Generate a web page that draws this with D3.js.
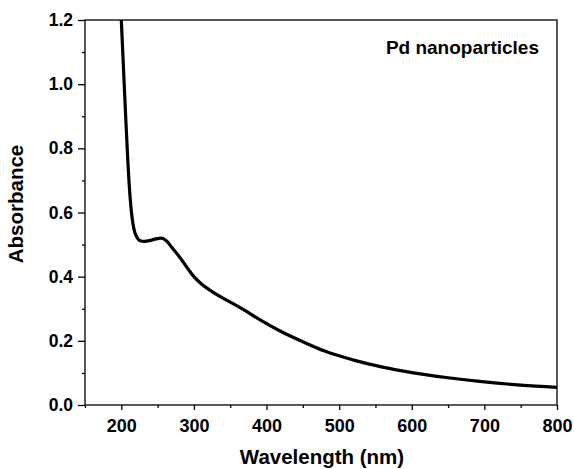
<!DOCTYPE html>
<html>
<head>
<meta charset="utf-8">
<script src="https://cdn.jsdelivr.net/npm/d3@7"></script>
<style>
  body { margin: 0; background: #fff; }
  text { font-family: "Liberation Sans", Arial, sans-serif; font-weight: bold; }
</style>
</head>
<body>
<svg id="chart" width="574" height="469"></svg>
<script>
// spectrum
const wavelength = [200, 203, 206, 209, 212, 214, 216, 218, 221, 225, 232, 240, 248, 255, 262, 270, 280, 290, 300, 310, 322, 340, 354, 370, 390, 420, 450, 480, 520, 560, 600, 650, 700, 750, 800]
const absorbance = [1.20, 1.05, 0.90, 0.76, 0.65, 0.6, 0.566, 0.543, 0.525, 0.513, 0.510, 0.513, 0.518, 0.520, 0.512, 0.49, 0.462, 0.43, 0.40, 0.378, 0.358, 0.333, 0.316, 0.295, 0.267, 0.229, 0.197, 0.168, 0.140, 0.118, 0.101, 0.085, 0.072, 0.062, 0.055]
const xTicks = [200, 300, 400, 500, 600, 700, 800]
const xMinor = [150, 250, 350, 450, 550, 650, 750]
const yTicks = [0, 0.2, 0.4, 0.6, 0.8, 1.0, 1.2]
const yMinor = [0.1, 0.3, 0.5, 0.7, 0.9, 1.1]
const label = 'Pd nanoparticles'

const svg = d3.select('#chart')
const m = { left: 85, right: 557, top: 20, bottom: 405 }

const x = d3.scaleLinear().domain([150, 800]).range([m.left, m.right])
const y = d3.scaleLinear().domain([0, 1.2]).range([m.bottom, m.top])

// frame
svg.append('rect')
    .attr('x', m.left).attr('y', m.top)
    .attr('width', m.right - m.left).attr('height', m.bottom - m.top)
    .attr('fill', 'none').attr('stroke', '#000').attr('stroke-width', 1.3)

// x axis
const gx = svg.append('g').attr('transform', `translate(0,${m.bottom})`)
gx.call(d3.axisBottom(x).tickValues(xTicks).tickSize(5).tickPadding(9).tickFormat(d3.format('d')))
gx.append('g').call(d3.axisBottom(x).tickValues(xMinor).tickSize(3).tickFormat(''))
gx.selectAll('.domain').remove()
gx.selectAll('line').attr('stroke-width', 1.3)
gx.selectAll('text').attr('font-size', 18).attr('fill', '#000')
    .style('font-family', '"Liberation Sans", Arial, sans-serif').style('font-weight', 'bold')

// y axis
const gy = svg.append('g').attr('transform', `translate(${m.left},0)`)
gy.call(d3.axisLeft(y).tickValues(yTicks).tickSize(7).tickPadding(5).tickFormat(d3.format('.1f')))
gy.append('g').call(d3.axisLeft(y).tickValues(yMinor).tickSize(3).tickFormat(''))
gy.selectAll('.domain').remove()
gy.selectAll('line').attr('stroke-width', 1.3)
gy.selectAll('text').attr('font-size', 17.5).attr('fill', '#000')
    .style('font-family', '"Liberation Sans", Arial, sans-serif').style('font-weight', 'bold')

// curve
svg.append('defs').append('clipPath').attr('id', 'clip')
  .append('rect').attr('x', m.left).attr('y', m.top)
    .attr('width', m.right - m.left).attr('height', m.bottom - m.top)

const line = d3.line()
    .x((d, i) => x(wavelength[i]))
    .y(d => y(d))
    .curve(d3.curveMonotoneX)

svg.append('path')
    .datum(absorbance)
    .attr('clip-path', 'url(#clip)')
    .attr('fill', 'none')
    .attr('stroke', '#000')
    .attr('stroke-width', 3.2)
    .attr('stroke-linejoin', 'round')
    .attr('d', line)

// titles
svg.append('text')
    .attr('x', 322).attr('y', 464)
    .attr('text-anchor', 'middle').attr('font-size', 20.5)
    .text('Wavelength (nm)')

svg.append('text')
    .attr('transform', `translate(23,204) rotate(-90)`)
    .attr('text-anchor', 'middle').attr('font-size', 20.5)
    .text('Absorbance')

svg.append('text')
    .attr('x', 539).attr('y', 54)
    .attr('text-anchor', 'end').attr('font-size', 19)
    .text(label)
</script>
</body>
</html>
